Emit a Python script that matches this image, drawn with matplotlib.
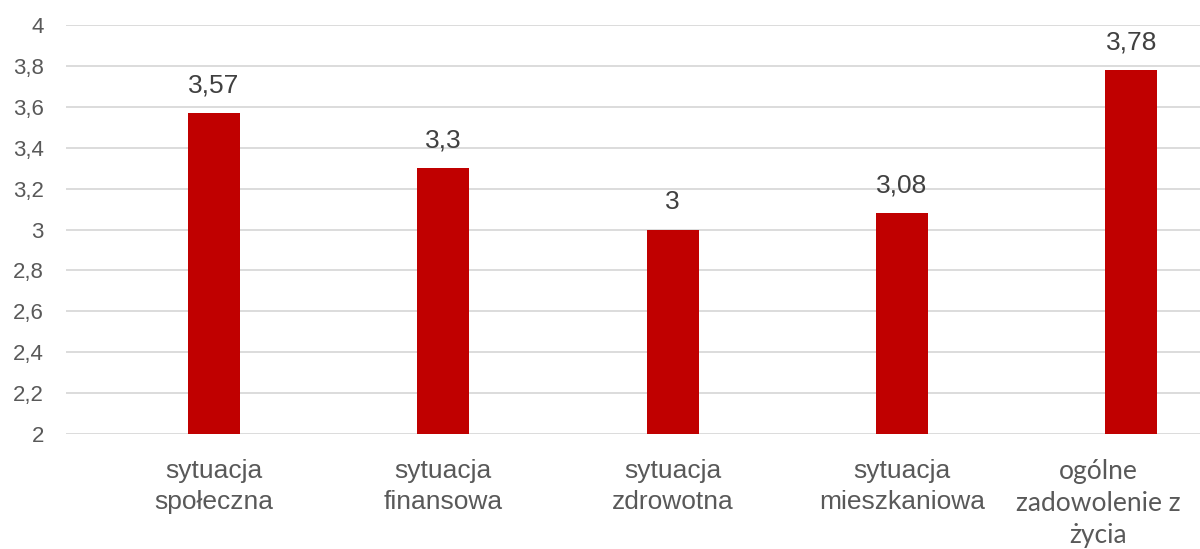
import matplotlib
matplotlib.use("Agg")
import matplotlib.pyplot as plt
from matplotlib.transforms import ScaledTranslation

kategorie = ["sytuacja\nspołeczna", "sytuacja\nfinansowa", "sytuacja\nzdrowotna",
             "sytuacja\nmieszkaniowa", "ogólne\nzadowolenie z\nżycia"]
wartosci = [3.57, 3.3, 3.0, 3.08, 3.78]
etykiety = ["3,57", "3,3", "3", "3,08", "3,78"]
yticks = [2, 2.2, 2.4, 2.6, 2.8, 3, 3.2, 3.4, 3.6, 3.8, 4]

plt.rcParams['font.family'] = ['Liberation Sans', 'DejaVu Sans']
szary = "#595959"

fig = plt.figure(figsize=(12, 5.49), dpi=100)
ax = fig.add_axes([66/1200, 115/549, 1 - 66/1200, (434-25)/549])

x = list(range(len(wartosci)))
ax.bar(x, wartosci, width=0.227, color="#c00000", zorder=3)

for i in x:
    ax.annotate(etykiety[i], (i, wartosci[i]), xytext=(0, 11), textcoords="offset points",
                ha="center", va="bottom", fontsize=19, color="#404040")

ax.set_ylim(2, 4)
ax.set_xlim(-0.646, 4.30)
ax.set_yticks(yticks)
ax.set_yticklabels([str(t).replace(".", ",") for t in yticks])
ax.set_xticks(x)
ax.set_xticklabels(kategorie, linespacing=1.35)
ax.tick_params(axis="y", length=0, pad=16, labelsize=16, labelcolor=szary)
ax.tick_params(axis="x", length=0, pad=18, labelsize=19, labelcolor=szary)

# ostatnia etykieta przesunieta w lewo, zeby sie miescila (jak w Excelu)
ostatnia = ax.get_xticklabels()[-1]
ostatnia.set_family(["Lato", "DejaVu Sans"])
ostatnia.set_fontsize(19)
ostatnia.set_transform(ostatnia.get_transform() + ScaledTranslation(-0.33, 0, fig.dpi_scale_trans))

ax.grid(axis="y", color="#d9d9d9", linewidth=1.3, zorder=0)
for s in ax.spines.values():
    s.set_visible(False)

fig.savefig("out.png", dpi=100)
